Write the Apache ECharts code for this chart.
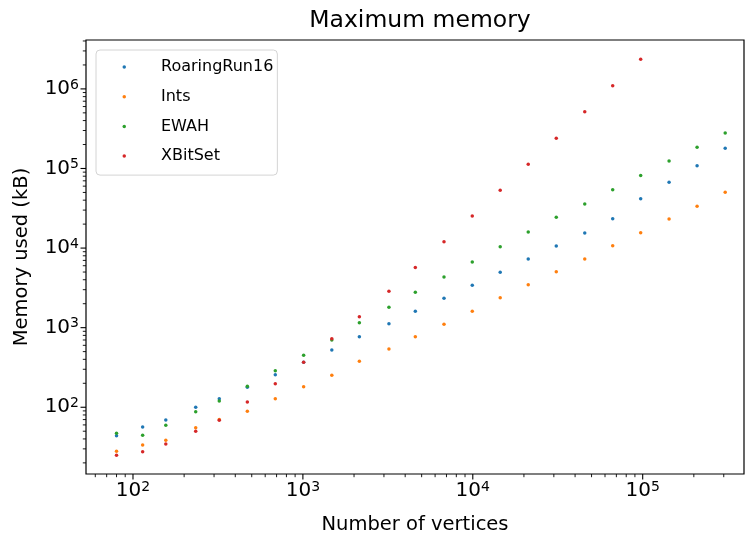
<!DOCTYPE html>
<html>
<head>
<meta charset="utf-8">
<script src="https://cdn.jsdelivr.net/npm/echarts@6/dist/echarts.min.js"></script>
<style>
  html, body { margin: 0; padding: 0; background: #fff; }
  #chart { width: 746px; height: 533px; }
</style>
</head>
<body>
<div id="chart"></div>
<script>
// Graph sizes (number of vertices) and peak memory (kB) per bitmap implementation
const vertices = [80, 114, 156, 234, 322, 471, 688, 1010, 1480, 2150, 3210, 4590, 6770, 9930,
  14500, 21200, 31000, 45600, 66600, 97300, 143000, 209000, 306000];
const roaringRun16 = [44.0, 56.6, 69.3, 100, 128, 178, 257, 367, 525, 771, 1123, 1607, 2341, 3410,
  4966, 7297, 10630, 15480, 23400, 41750, 67070, 108400, 179400];
const ints = [28.0, 33.6, 38.5, 55.4, 70, 89.1, 128, 181.5, 252, 378, 540, 771, 1107, 1607,
  2382, 3469, 5052, 7297, 10720, 15620, 23200, 33500, 50230];
const ewah = [47.1, 44.5, 59.4, 88.1, 120, 184, 288, 450, 701, 1156, 1805, 2783, 4334, 6690,
  10410, 15930, 24370, 35810, 54170, 81700, 124300, 184600, 279300];
const xBitSet = [24.9, 27.7, 34.6, 49.9, 68.7, 116.6, 198, 368, 728, 1375, 2867, 5706, 12035, 25310,
  53230, 112900, 239500, 517100, 1097000, 2354000];

const seriesNames = ['RoaringRun16', 'Ints', 'EWAH', 'XBitSet'];
const seriesValues = [roaringRun16, ints, ewah, xBitSet];
const seriesColors = ['#1f77b4', '#ff7f0e', '#2ca02c', '#d62728'];

// Decade exponents that carry a tick label
const xTickExponents = [2, 3, 4, 5];
const yTickExponents = [2, 3, 4, 5, 6];

// Axis ranges
const X_MIN = 52.9, X_MAX = 394700;
const Y_MIN = 14.5, Y_MAX = 4.115e6;

const FONT = 'DejaVu Sans';

// Major (decade) and minor (2..9 x decade) tick positions along both log axes
function decadeTicks(lo, hi) {
  const major = [], minor = [];
  for (let e = Math.floor(Math.log10(lo)); e <= Math.ceil(Math.log10(hi)); e++) {
    for (let m = 1; m <= 9; m++) {
      const v = m * Math.pow(10, e);
      if (v < lo || v > hi) continue;
      (m === 1 ? major : minor).push(v);
    }
  }
  return { major, minor };
}
const xt = decadeTicks(X_MIN, X_MAX);
const yt = decadeTicks(Y_MIN, Y_MAX);
const tickData = [];
xt.major.forEach(v => tickData.push([v, Y_MIN, 0]));
xt.minor.forEach(v => tickData.push([v, Y_MIN, 1]));
yt.major.forEach(v => tickData.push([X_MIN, v, 2]));
yt.minor.forEach(v => tickData.push([X_MIN, v, 3]));

function renderTick(params, api) {
  const p = api.coord([api.value(0), api.value(1)]);
  const kind = api.value(2);
  const major = kind === 0 || kind === 2;
  const len = major ? 5.5 : 3.2;
  const shape = kind < 2
    ? { x1: p[0], y1: p[1], x2: p[0], y2: p[1] + len }
    : { x1: p[0], y1: p[1], x2: p[0] - len, y2: p[1] };
  return {
    type: 'line',
    shape: shape,
    style: { stroke: '#000', lineWidth: major ? 1.1 : 0.9 }
  };
}

function powerLabel(exponents) {
  return function (v) {
    const e = Math.log10(v);
    const r = Math.round(e);
    if (Math.abs(e - r) > 1e-6 || exponents.indexOf(r) < 0) return '';
    return '{b|10}{s|' + r + '}';
  };
}

const labelRich = {
  b: { fontFamily: FONT, fontSize: 20, color: '#000', lineHeight: 22 },
  s: { fontFamily: FONT, fontSize: 14, color: '#000', lineHeight: 8, verticalAlign: 'top' }
};

const chart = echarts.init(document.getElementById('chart'), null, { renderer: 'canvas' });

const scatterSeries = seriesNames.map((name, i) => ({
  name: name,
  type: 'scatter',
  symbol: 'circle',
  symbolSize: 3.5,
  itemStyle: { color: seriesColors[i], opacity: 1 },
  emphasis: { disabled: true },
  data: seriesValues[i].map((y, j) => [vertices[j], y])
}));

chart.setOption({
  animation: false,
  backgroundColor: '#fff',
  title: {
    text: 'Maximum memory',
    left: 415,
    textAlign: 'center',
    top: 4,
    textStyle: { fontFamily: FONT, fontSize: 23.5, fontWeight: 'normal', color: '#000' }
  },
  legend: {
    orient: 'vertical',
    left: 96,
    top: 50,
    data: seriesNames,
    icon: 'circle',
    itemWidth: 3.5,
    itemHeight: 3.5,
    itemGap: 11.7,
    padding: [8, 4, 10, 26.5],
    backgroundColor: '#fff',
    borderColor: '#d4d4d4',
    borderWidth: 1,
    borderRadius: 4,
    selectedMode: false,
    textStyle: { fontFamily: FONT, fontSize: 16, color: '#000', lineHeight: 18, padding: [0, 0, 0, 30] }
  },
  grid: {
    left: 86, right: 2, top: 40, bottom: 59,
    containLabel: false,
    outerBoundsMode: 'none',
    show: true,
    borderColor: '#000',
    borderWidth: 1.2,
    backgroundColor: 'transparent'
  },
  xAxis: {
    type: 'log',
    logBase: 10,
    min: X_MIN,
    max: X_MAX,
    name: 'Number of vertices',
    nameLocation: 'middle',
    nameGap: 41,
    nameTextStyle: { fontFamily: FONT, fontSize: 19.5, color: '#000' },
    axisLine: { show: false },
    axisTick: { show: false },
    splitLine: { show: false },
    minorTick: { show: false },
    axisLabel: {
      margin: 6,
      formatter: powerLabel(xTickExponents),
      rich: labelRich,
      hideOverlap: false
    }
  },
  yAxis: {
    type: 'log',
    logBase: 10,
    min: Y_MIN,
    max: Y_MAX,
    name: 'Memory used (kB)',
    nameLocation: 'middle',
    nameGap: 54,
    nameTextStyle: { fontFamily: FONT, fontSize: 19.5, color: '#000' },
    axisLine: { show: false },
    axisTick: { show: false },
    splitLine: { show: false },
    minorTick: { show: false },
    axisLabel: {
      margin: 7,
      formatter: powerLabel(yTickExponents),
      rich: labelRich,
      hideOverlap: false
    }
  },
  series: [
    {
      name: 'ticks',
      type: 'custom',
      renderItem: renderTick,
      data: tickData,
      clip: false,
      silent: true,
      encode: { x: 0, y: 1 },
      z: 1
    }
  ].concat(scatterSeries)
});
</script>
</body>
</html>
